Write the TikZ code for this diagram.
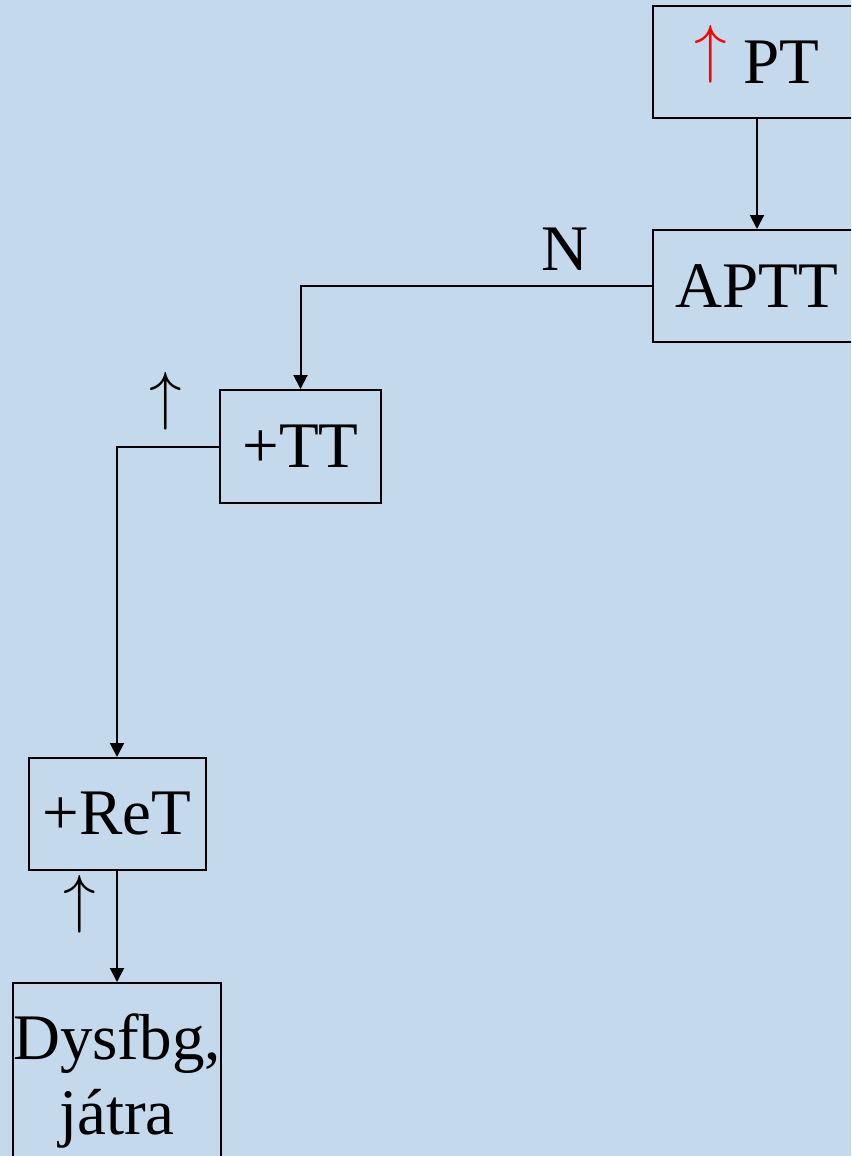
\RequirePackage{fix-cm}
\documentclass[tikz,border=0pt]{standalone}
\usepackage{fontspec}
\setmainfont{Liberation Serif}
\usetikzlibrary{arrows.meta}
\definecolor{bgblue}{RGB}{196,217,235}
\newcommand{\upar}{\smash{\raisebox{0.194em}{$\uparrow$}}}
\begin{document}
\begin{tikzpicture}[x=1pt,y=-1pt,
  box/.style={draw=black,line width=2pt,rectangle,inner sep=0pt,
    font=\fontsize{65}{75}\selectfont},
  lbl/.style={inner sep=0pt,font=\fontsize{65}{75}\selectfont},
  conn/.style={draw=black,line width=2pt,-{Triangle[length=14pt,width=14pt]}}]
\fill[bgblue] (0,0) rectangle (851,1156);
\useasboundingbox (0,0) rectangle (851,1156);
\begin{scope}
\clip (0,0) rectangle (851,1156);
\node[box,minimum width=208pt,minimum height=112pt] (pt) at (757,62) {\textcolor{red}{\upar} PT};
\node[box,minimum width=208pt,minimum height=112pt] (aptt) at (757,286) {APTT};
\node[box,minimum width=161pt,minimum height=113pt] (tt) at (300.5,446.5) {+TT};
\node[box,minimum width=177pt,minimum height=112pt] (ret) at (117,814) {+ReT};
\node[box,minimum width=208pt,minimum height=196pt,align=center,anchor=north] (dys) at (117,982) {Dysfbg,\\játra};
\node[lbl] (n) at (565,249) {N};
\node[lbl] (up1) at (166,401) {$\uparrow$};
\node[lbl] (up2) at (80,904) {$\uparrow$};
\draw[conn] (pt.south) -- (aptt.north);
\draw[conn] (aptt.west) -| (tt.north);
\draw[conn] (tt.west) -| (ret.north);
\draw[conn] (ret.south) -- (dys.north);
\end{scope}
\end{tikzpicture}
\end{document}
